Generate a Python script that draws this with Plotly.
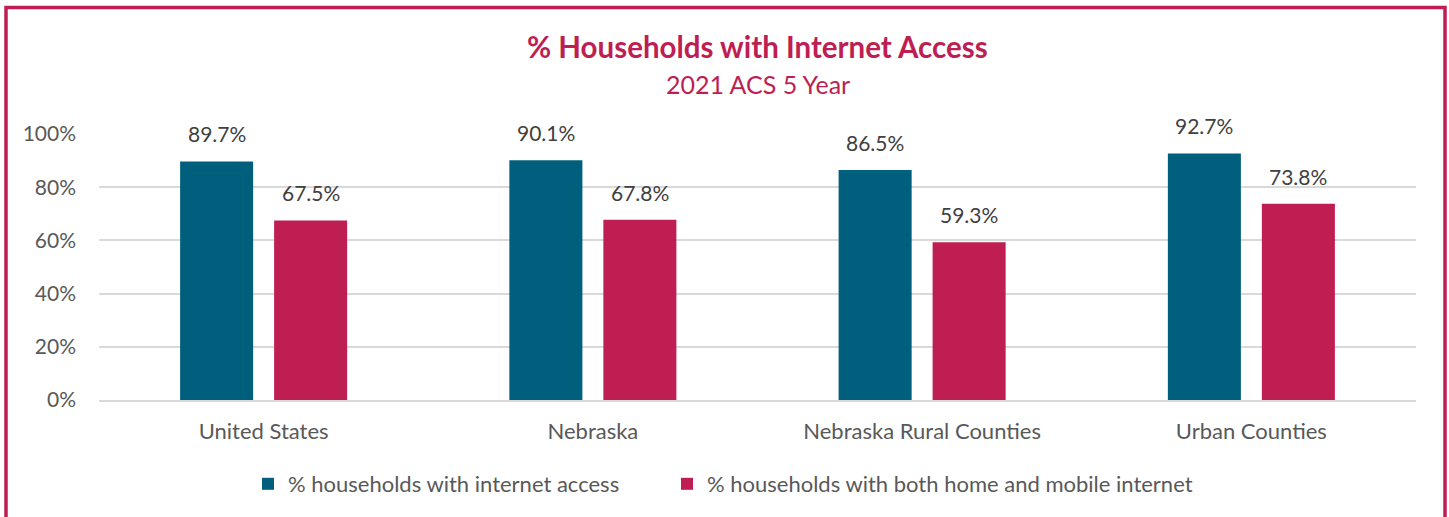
import plotly.graph_objects as go

categories = ["United States", "Nebraska", "Nebraska Rural Counties", "Urban Counties"]
internet_access = [89.7, 90.1, 86.5, 92.7]
home_and_mobile = [67.5, 67.8, 59.3, 73.8]
series_names = ["% households with internet access", "% households with both home and mobile internet"]
y_ticks = [0, 20, 40, 60, 80, 100]
y_tick_labels = ["0%", "20%", "40%", "60%", "80%", "100%"]

TEAL = "#005F7D"
CRIMSON = "#BE1E52"
FONT = "Lato, 'Open Sans', sans-serif"

L, R, T, B = 99, 33, 134, 117
W, H = 1449, 517
pw, ph = W - L - R, H - T - B


def py(p):
    """pixel y -> paper y"""
    return (H - B - p) / ph


def px(p):
    return (p - L) / pw


fig = go.Figure()
annotations = []
for vals, name, col, shift, leg in [(internet_access, series_names[0], TEAL, -47, "legend"),
                                    (home_and_mobile, series_names[1], CRIMSON, 47, "legend2")]:
    fig.add_trace(go.Bar(
        x=categories, y=vals, name=name, marker=dict(color=col, line=dict(width=0)),
        legend=leg,
    ))
    for c, v in zip(categories, vals):
        annotations.append(dict(
            x=c, y=v, xref="x", yref="y", text=f"{v:.1f}%", showarrow=False,
            xanchor="center", yanchor="bottom", xshift=shift, yshift=13,
            font=dict(size=21, color="#404040", family=FONT),
        ))

annotations.append(dict(
    x=0.5, xref="paper", y=py(47), yref="paper", xanchor="center", yanchor="middle",
    text="<b>% Households with Internet Access</b>", showarrow=False,
    font=dict(size=29.5, color=CRIMSON, family=FONT),
))
annotations.append(dict(
    x=0.5, xref="paper", y=py(84), yref="paper", xanchor="center", yanchor="middle",
    text="2021 ACS 5 Year", showarrow=False,
    font=dict(size=25, color=CRIMSON, family=FONT),
))

legend_style = dict(orientation="h", xanchor="left", y=py(484), yanchor="middle",
                    font=dict(size=22, color="#595959", family=FONT), itemwidth=30,
                    bgcolor="rgba(0,0,0,0)")

fig.update_layout(
    width=W, height=H,
    margin=dict(l=L, r=R, t=T, b=B),
    paper_bgcolor="white", plot_bgcolor="white",
    barmode="group", bargap=0.429, bargroupgap=0.223,
    font=dict(family=FONT, color="#595959", size=21),
    showlegend=True,
    legend=dict(x=px(248), **legend_style),
    legend2=dict(x=px(667), **legend_style),
    xaxis=dict(showline=True, linecolor="#D9D9D9", linewidth=1.5, ticks="",
               tickfont=dict(size=22, color="#595959"), showgrid=False,
               ticklabelstandoff=11),
    yaxis=dict(range=[0, 100], tickvals=y_ticks, ticktext=y_tick_labels, showgrid=True,
               gridcolor="#D9D9D9", gridwidth=1.5, zeroline=False, ticks="",
               tickfont=dict(size=21, color="#595959"), ticklabelstandoff=22),
    annotations=annotations,
    shapes=[dict(type="rect", xref="paper", yref="paper",
                 x0=px(6), x1=px(1445), y0=py(540), y1=py(7.5),
                 line=dict(color=CRIMSON, width=3.5), fillcolor="rgba(0,0,0,0)", layer="below")],
)

fig.write_html("out.html", config={"displayModeBar": False},
               post_script="document.body.style.margin='0';")
